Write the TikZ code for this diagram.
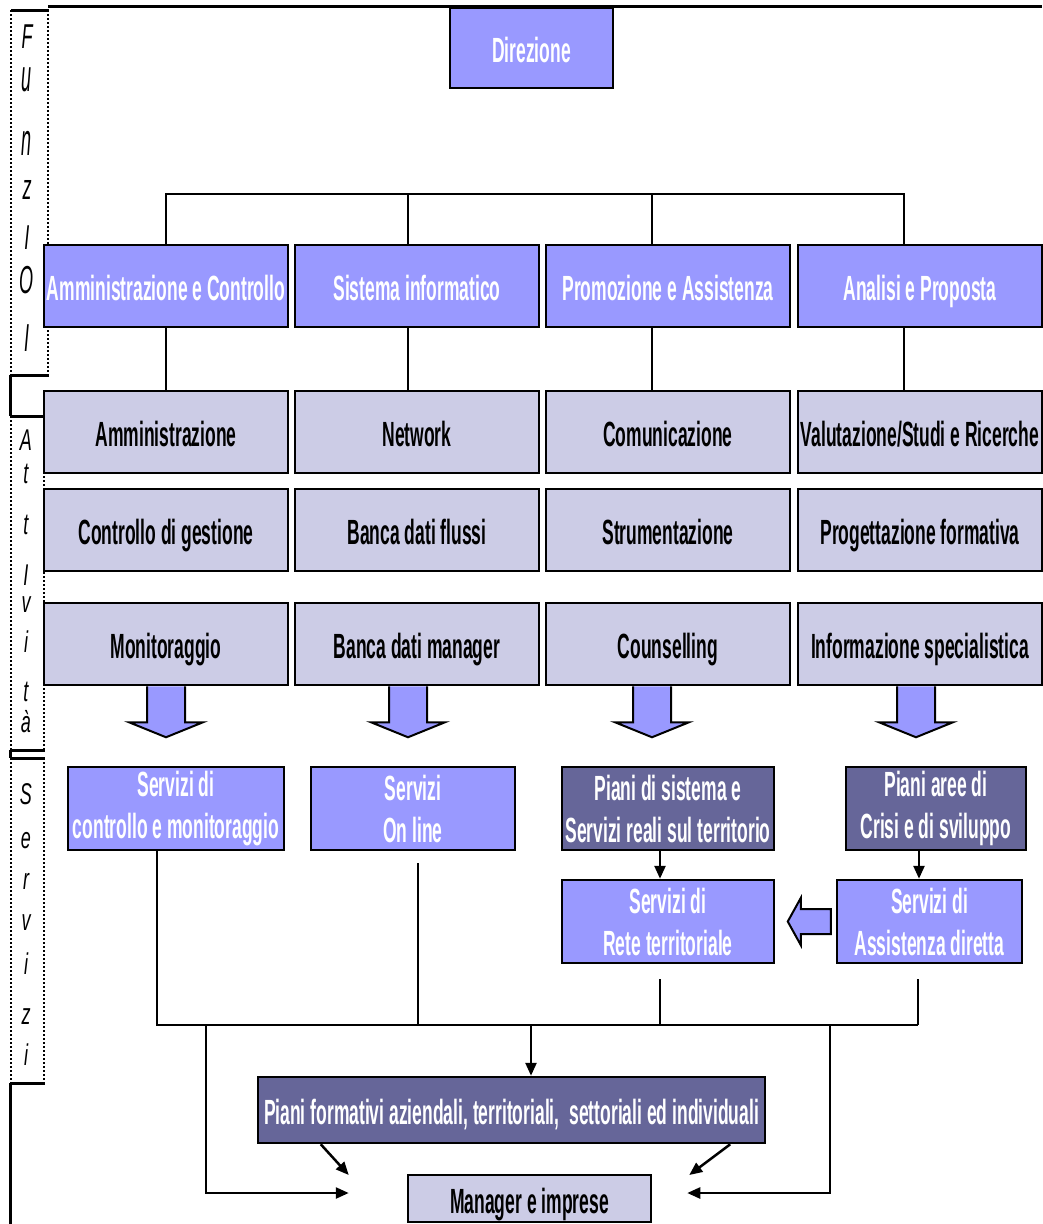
\documentclass[tikz,border=0pt]{standalone}
\usepackage{fontspec}
\setmainfont{Liberation Sans}[FakeStretch=0.5]
\newfontfamily\sidefont{Liberation Sans}[FakeStretch=0.6]
\usetikzlibrary{arrows.meta}
\definecolor{lp}{HTML}{9999FF}
\definecolor{dp}{HTML}{666699}
\definecolor{gl}{HTML}{CCCCE6}
\newcommand\bxfont{\fontsize{35}{42}\selectfont\bfseries}
\newcommand\ys[2]{\scalebox{1}[#1]{#2}}
\tikzset{
  box/.style={draw=black, line width=2.5pt, inner sep=0pt, align=center, font=\bxfont},
  one/.style={text height=29pt, text depth=0pt},
  fbox/.style={box, fill=lp, text=white},
  dbox/.style={box, fill=dp, text=white},
  abox/.style={box, fill=gl, text=black},
  conn/.style={draw=black, line width=2.5pt},
  arr/.style={conn, -{Triangle[length=13pt,width=11pt]}},
  barrow/.style={draw=black, line width=2pt, fill=lp, line join=miter},
  sidel/.style={inner sep=0pt, font=\sidefont\itshape\fontsize{30}{30}\selectfont},
  sidesolid/.style={draw=black, line width=3pt},
  sidedot/.style={draw=black, line width=2pt, dash pattern=on 2pt off 2pt},
}
\begin{document}
\begin{tikzpicture}[x=1pt,y=-1pt]
\useasboundingbox (0,0) rectangle (1042,1224);
\fill[white] (0,0) rectangle (1042,1224);

% outer frame and side boxes
\draw[sidesolid] (48,6) -- (1042,6);
\draw[sidesolid] (10,375) -- (10,416);
\draw[sidesolid] (10,750) -- (10,758);
\draw[sidesolid] (10,1083) -- (10,1224);
% Funzioni
\draw[sidesolid] (11,10) -- (49,10);
\draw[sidesolid] (11,375) -- (49,375);
\draw[sidedot] (11,10) -- (11,375);
\draw[sidedot] (48,10) -- (48,375);
% Attivita
\draw[sidesolid] (11,416) -- (45,416);
\draw[sidesolid] (11,750) -- (45,750);
\draw[sidedot] (11,416) -- (11,750);
\draw[sidedot] (44,416) -- (44,750);
% Servizi
\draw[sidesolid] (11,758) -- (45,758);
\draw[sidesolid] (11,1083) -- (45,1083);
\draw[sidedot] (11,758) -- (11,1083);
\draw[sidedot] (44,758) -- (44,1083);

\node[sidel] (fl1) at (27,37) {\ys{1.15}{F}};
\node[sidel] (fl2) at (27,80) {\ys{1.5}{u}};
\node[sidel] (fl3) at (27,143) {\ys{1.5}{n}};
\node[sidel] (fl4) at (27,190) {\ys{1.2}{z}};
\node[sidel] (fl5) at (27,238) {\ys{1.15}{I}};
\node[sidel] (fl6) at (27,280) {\ys{1.3}{O}};
\node[sidel] (fl7) at (27,338) {\ys{1.3}{I}};

\node[sidel] (al1) at (26,440) {A};
\node[sidel] (al2) at (26,474) {t};
\node[sidel] (al3) at (26,525) {t};
\node[sidel] (al4) at (26,575) {I};
\node[sidel] (al5) at (26,605) {v};
\node[sidel] (al6) at (26,642) {i};
\node[sidel] (al7) at (26,692) {t};
\node[sidel] (al8) at (26,722) {à};

\node[sidel] (sl1) at (26,794) {S};
\node[sidel] (sl2) at (26,841) {e};
\node[sidel] (sl3) at (26,881) {r};
\node[sidel] (sl4) at (26,923) {v};
\node[sidel] (sl5) at (26,964) {i};
\node[sidel] (sl6) at (26,1017) {z};
\node[sidel] (sl7) at (26,1055) {i};

% Direzione
\node[fbox, one, minimum width=163pt, minimum height=80pt] (dir) at (531.5,48) {Direzione};

% Funzioni
\node[fbox, one, minimum width=244pt, minimum height=82pt] (f1) at (166,286) {Amministrazione e Controllo};
\node[fbox, one, minimum width=244pt, minimum height=82pt] (f2) at (417,286) {Sistema informatico};
\node[fbox, one, minimum width=244pt, minimum height=82pt] (f3) at (668,286) {Promozione e Assistenza};
\node[fbox, one, minimum width=244pt, minimum height=82pt] (f4) at (920,286) {Analisi e Proposta};

% Attivita rows
\foreach \r/\y in {1/432,2/530,3/644}{
  \path (166,\y) coordinate (c1\r) (417,\y) coordinate (c2\r) (668,\y) coordinate (c3\r) (920,\y) coordinate (c4\r);
}
\node[abox, one, minimum width=244pt, minimum height=82pt] (a11) at (c11) {Amministrazione};
\node[abox, one, minimum width=244pt, minimum height=82pt] (a21) at (c21) {Network};
\node[abox, one, minimum width=244pt, minimum height=82pt] (a31) at (c31) {Comunicazione};
\node[abox, one, minimum width=244pt, minimum height=82pt] (a41) at (c41) {Valutazione/Studi e Ricerche};
\node[abox, one, minimum width=244pt, minimum height=82pt] (a12) at (c12) {Controllo di gestione};
\node[abox, one, minimum width=244pt, minimum height=82pt] (a22) at (c22) {Banca dati flussi};
\node[abox, one, minimum width=244pt, minimum height=82pt] (a32) at (c32) {Strumentazione};
\node[abox, one, minimum width=244pt, minimum height=82pt] (a42) at (c42) {Progettazione formativa};
\node[abox, one, minimum width=244pt, minimum height=82pt] (a13) at (c13) {Monitoraggio};
\node[abox, one, minimum width=244pt, minimum height=82pt] (a23) at (c23) {Banca dati manager};
\node[abox, one, minimum width=244pt, minimum height=82pt] (a33) at (c33) {Counselling};
\node[abox, one, minimum width=244pt, minimum height=82pt] (a43) at (c43) {Informazione specialistica};

% top tree
\draw[conn] (f1.north) -- ++(0,-50) -| ([shift={(-16,0)}]f4.north);
\draw[conn] ([shift={(-9,0)}]f2.north) -- ++(0,-50);
\draw[draw=black, line width=1.2pt] ([shift={(-16,0)}]f3.north) -- ++(0,-50);
\draw[conn] (f1.south) -- (a11.north);
\draw[conn] ([shift={(-9,0)}]f2.south) -- ([shift={(-9,0)}]a21.north);
\draw[conn] ([shift={(-16,0)}]f3.south) -- ([shift={(-16,0)}]a31.north);
\draw[conn] ([shift={(-16,0)}]f4.south) -- ([shift={(-16,0)}]a41.north);

% block arrows
\foreach \n/\dx in {a13/0,a23/-9,a33/-16,a43/-4}{
  \draw[barrow] ([shift={(\dx-19,0)}]\n.south) -- ++(0,36) -- ++(-18,0) -- ++(37,15) -- ++(37,-15) -- ++(-18,0) -- ++(0,-36);
}

% Servizi
\node[fbox, minimum width=216pt, minimum height=83pt] (s1) at (176,808.5) {Servizi di\\controllo e monitoraggio};
\node[fbox, minimum width=204pt, minimum height=83pt] (s2) at (413,808.5) {Servizi\\On line};
\node[dbox, minimum width=212pt, minimum height=83pt] (s3) at (668,808.5) {Piani di sistema e\\Servizi reali sul territorio};
\node[dbox, minimum width=180pt, minimum height=83pt] (s4) at (936,808.5) {Piani aree di\\Crisi e di sviluppo};
\node[fbox, minimum width=212pt, minimum height=83pt] (s5) at (668,921.5) {Servizi di\\Rete territoriale};
\node[fbox, minimum width=185pt, minimum height=83pt] (s6) at (929.5,921.5) {Servizi di\\Assistenza diretta};

\draw[arr] ([shift={(-8,0)}]s3.south) -- ([shift={(-8,0)}]s5.north);
\draw[arr] ([shift={(-17,0)}]s4.south) -- ([shift={(-17,0)}]s4.south |- s6.north);
\draw[barrow] ([shift={(-5,-12.5)}]s6.west) -- ++(-30,0) -- ++(0,-11) -- ++(-13,23.5) -- ++(13,23.5) -- ++(0,-11) -- ++(30,0) -- cycle;

% bottom
\node[dbox, one, minimum width=507pt, minimum height=66pt] (pf) at (511.5,1110) {Piani formativi aziendali, territoriali,\ \ settoriali ed individuali};
\node[abox, one, minimum width=243pt, minimum height=47pt] (mg) at (529.5,1198.5) {Manager e imprese};

\coordinate (busL) at (157,1025);
\coordinate (busR) at (918,1025);
\draw[conn] ([shift={(-19,0)}]s1.south) -- (busL) -- (busR);
\draw[conn] ([shift={(5,12)}]s2.south) -- ([shift={(5,0)}]s2.south |- busL);
\draw[conn] ([shift={(-8,15)}]s5.south) -- ([shift={(-8,0)}]s5.south |- busL);
\draw[conn] ([shift={(-11.5,15)}]s6.south) -- ([shift={(-11.5,0)}]s6.south |- busL);
\draw[arr] ([shift={(19.5,0)}]pf.north |- busL) -- ([shift={(19.5,0)}]pf.north);
\draw[arr] ([shift={(49,0)}]busL) |- ([shift={(-58,-5.5)}]mg.west);
\draw[arr] ([shift={(-88,0)}]busR) |- ([shift={(35,-5.5)}]mg.east);
\draw[arr] ([shift={(64,0)}]pf.south west) -- ([shift={(-58,-23.5)}]mg.west);
\draw[arr] ([shift={(-36,0)}]pf.south east) -- ([shift={(37,-23.5)}]mg.east);
\end{tikzpicture}
\end{document}
